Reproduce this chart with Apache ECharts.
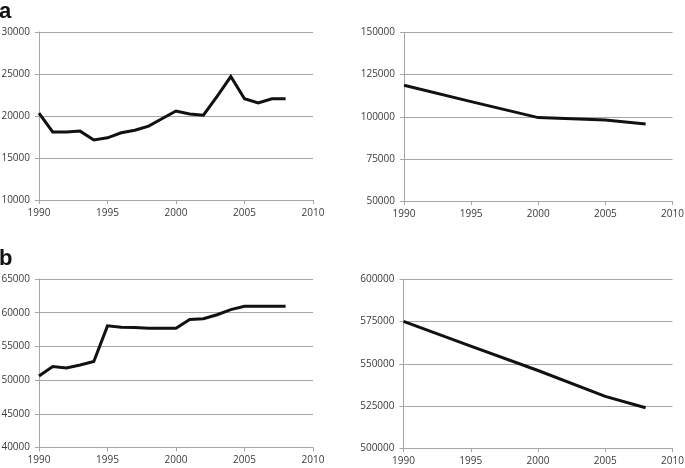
<!DOCTYPE html>
<html><head><meta charset="utf-8">
<script src="https://cdn.jsdelivr.net/npm/echarts@6/dist/echarts.min.js"></script>
<style>html,body{margin:0;padding:0;background:#fff}#c{width:685px;height:468px}</style>
</head><body><div id="c"></div>
<script>
// Panel a (left): yearly values 1990-2008
const yearsA = [1990,1991,1992,1993,1994,1995,1996,1997,1998,1999,2000,2001,2002,2003,2004,2005,2006,2007,2008];
const valuesA = [20350,18100,18100,18200,17150,17400,18000,18300,18800,19700,20600,20250,20100,22350,24700,22050,21550,22050,22050];
// Panel a (right)
const yearsA2 = [1990,1995,2000,2005,2008];
const valuesA2 = [118700,109000,99500,98000,95700];
// Panel b (left)
const yearsB = [1990,1991,1992,1993,1994,1995,1996,1997,1998,1999,2000,2001,2002,2003,2004,2005,2006,2007,2008];
const valuesB = [50600,52000,51800,52250,52750,58050,57850,57800,57700,57700,57700,59000,59100,59700,60450,60950,60950,60950,60950];
// Panel b (right)
const yearsB2 = [1990,1995,2000,2005,2008];
const valuesB2 = [575100,560500,546000,530600,523900];
// Axis ranges
const xRange = {min:1990, max:2010, interval:5};
const yRanges = [
  {min:10000, max:30000, interval:5000},
  {min:50000, max:150000, interval:25000},
  {min:40000, max:65000, interval:5000},
  {min:500000, max:600000, interval:25000}
];
const panelLabels = ['a','b'];

const grids = [
  {left:39, width:274, top:32, height:168},
  {left:404, width:268.5, top:32.5, height:168.5},
  {left:39, width:274, top:279, height:168.5},
  {left:403.5, width:269, top:279.5, height:168.5}
].map(g=>Object.assign({containLabel:false, outerBoundsMode:'none'}, g));
const axisCol = '#a6a6a6';
const labelStyle = {color:'#3a3a3a', fontFamily:'Open Sans', fontSize:10};
const xAxes = grids.map((g,i)=>({
  type:'value', gridIndex:i, min:xRange.min, max:xRange.max, interval:xRange.interval,
  axisLine:{show:true, lineStyle:{color:axisCol, width:1}},
  axisTick:{show:true, length:4, lineStyle:{color:axisCol}},
  splitLine:{show:false},
  axisLabel:Object.assign({margin:8, formatter:v=>String(v)}, labelStyle)
}));
const yAxes = grids.map((g,i)=>({
  type:'value', gridIndex:i, min:yRanges[i].min, max:yRanges[i].max, interval:yRanges[i].interval,
  axisLine:{show:true, lineStyle:{color:axisCol, width:1}},
  axisTick:{show:true, length:4, lineStyle:{color:axisCol}},
  splitLine:{show:true, lineStyle:{color:axisCol, width:1}},
  axisLabel:Object.assign({margin:9, formatter:v=>String(v)}, labelStyle)
}));
const pairs = [[yearsA,valuesA],[yearsA2,valuesA2],[yearsB,valuesB],[yearsB2,valuesB2]];
const series = pairs.map((p,i)=>({
  type:'line', xAxisIndex:i, yAxisIndex:i, showSymbol:false, symbol:'none',
  data:p[0].map((x,k)=>[x,p[1][k]]),
  lineStyle:{color:'#111', width:3, join:'miter'}, animation:false
}));
const chart = echarts.init(document.getElementById('c'), null, {renderer:'canvas'});
chart.setOption({
  animation:false,
  grid:grids,
  xAxis:xAxes, yAxis:yAxes, series:series,
  graphic:[
    {type:'text', left:-1, top:1, style:{text:panelLabels[0], font:'bold 22px "Liberation Sans"', fill:'#111'}},
    {type:'text', left:-1, top:248, style:{text:panelLabels[1], font:'bold 22px "Liberation Sans"', fill:'#111'}}
  ]
});
</script></body></html>
